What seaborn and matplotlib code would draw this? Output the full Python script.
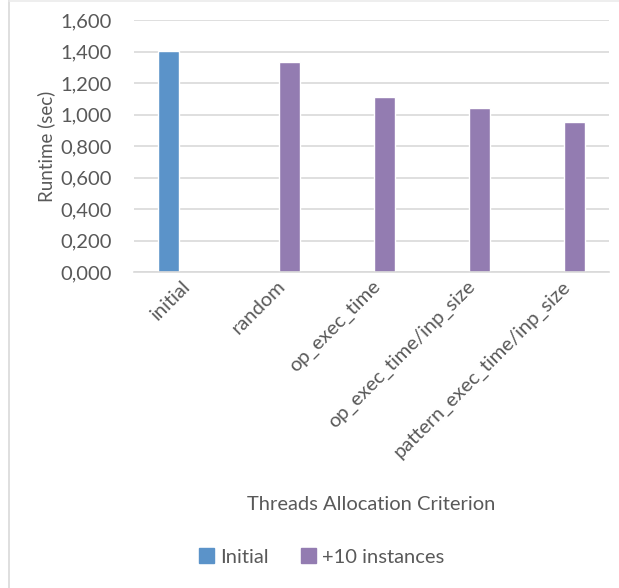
import pandas as pd
import seaborn as sns
import matplotlib.pyplot as plt
from matplotlib.ticker import FuncFormatter
from matplotlib.lines import Line2D

categories = ['initial', 'random', 'op_exec_time', 'op_exec_time/inp_size',
              'pattern_exec_time/inp_size']
series = ['Initial', '+10 instances']
initial_cats = ['initial']
initial_vals = [1.403]
inst_cats = ['random', 'op_exec_time', 'op_exec_time/inp_size',
             'pattern_exec_time/inp_size']
inst_vals = [1.331, 1.113, 1.042, 0.952]
colors = ['#5B93C9', '#937CB1']

df = pd.DataFrame({
    'criterion': initial_cats + inst_cats,
    'series': ['Initial'] * len(initial_cats) + ['+10 instances'] * len(inst_cats),
    'runtime': initial_vals + inst_vals,
})

sns.set_style('white')
plt.rcParams['font.family'] = ['Lato', 'DejaVu Sans']
txt = '#595959'
fs = 14.5

fig = plt.figure(figsize=(6.19, 5.88), dpi=100)
ax = fig.add_axes([134 / 619, 1 - 272 / 588, 475 / 619, 252 / 588])

sns.barplot(data=df, x='criterion', y='runtime', hue='series',
            order=categories, hue_order=series, palette=colors,
            width=0.56, gap=0.22, dodge=True, saturation=1, ax=ax, legend=False)

ax.set_ylim(0, 1.6)
ax.set_yticks([i * 0.2 for i in range(9)])
ax.yaxis.set_major_formatter(FuncFormatter(lambda v, p: f'{v:.3f}'.replace('.', ',')))
ax.grid(axis='y', color='#D9D9D9', lw=1.2)
ax.set_axisbelow(True)
for s in ['left', 'right', 'top']:
    ax.spines[s].set_visible(False)
ax.spines['bottom'].set_color('#D9D9D9')
ax.spines['bottom'].set_linewidth(1.2)
ax.tick_params(length=0, colors=txt, labelsize=fs)
ax.tick_params(axis='y', pad=16)
ax.tick_params(axis='x', pad=4)
plt.setp(ax.get_xticklabels(), rotation=45, ha='right', rotation_mode='anchor')

ax.set_ylabel('Runtime (sec)', color=txt, fontsize=13.5)
ax.yaxis.set_label_coords(-0.165, 0.5)
ax.set_xlabel('Threads Allocation Criterion', color=txt, fontsize=fs)
ax.xaxis.set_label_coords(0.5, -0.89)

handles = [plt.Rectangle((0, 0), 1, 1, color=c) for c in colors]
fig.legend(handles, series, loc='center', bbox_to_anchor=(322 / 619, 1 - 557 / 588),
           ncol=2, frameon=False, handlelength=0.75, handleheight=0.75,
           handletextpad=0.3, columnspacing=1.6, fontsize=fs, labelcolor=txt)

# chart area border (partly cropped)
fig.add_artist(Line2D([8.5 / 619, 8.5 / 619], [0, 1], color='#D9D9D9', lw=1.2))
fig.add_artist(Line2D([8.5 / 619, 1], [1 - 1 / 588, 1 - 1 / 588], color='#EBEBEB', lw=1.2))

fig.savefig('out.png', dpi=100)
